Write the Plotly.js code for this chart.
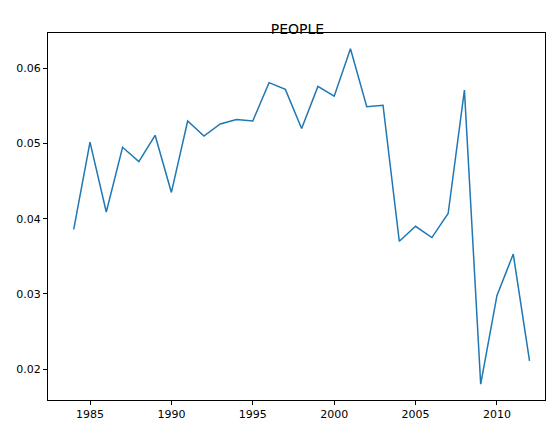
<!DOCTYPE html>
<html>
<head>
<script src="https://cdn.plot.ly/plotly-3.0.1.min.js"></script>
<style>body{margin:0;background:#fff}</style>
</head>
<body>
<div id="chart" style="width:556px;height:435px"></div>
<script>
var years = [1984,1985,1986,1987,1988,1989,1990,1991,1992,1993,1994,1995,1996,1997,1998,
  1999,2000,2001,2002,2003,2004,2005,2006,2007,2008,2009,2010,2011,2012];
var people = [0.0386,0.0502,0.0409,0.0495,0.0476,0.0511,0.0435,0.0530,0.0510,0.0526,0.0532,0.0530,
  0.0581,0.0572,0.0520,0.0576,0.0563,0.0626,0.0549,0.0551,0.0370,0.0390,0.0375,0.0407,0.0571,
  0.0180,0.0298,0.0353,0.0211];
var xTicks = [1985,1990,1995,2000,2005,2010];
var yTicks = [0.02,0.03,0.04,0.05,0.06];

var trace = {
  type: 'scatter', mode: 'lines', x: years, y: people,
  line: {color: '#1f77b4', width: 1.5}
};
var axis = {
  showgrid: false, zeroline: false, showline: true, mirror: true,
  linecolor: '#000', linewidth: 1, ticks: 'outside', ticklen: 4,
  tickcolor: '#000', tickfont: {size: 11, color: '#000'}
};
var layout = {
  width: 556, height: 435,
  margin: {l: 48, r: 11, t: 33, b: 35},
  paper_bgcolor: '#fff', plot_bgcolor: '#fff',
  font: {family: 'DejaVu Sans', color: '#000'},
  showlegend: false,
  title: {text: 'PEOPLE', font: {size: 14}, x: 0.535, xanchor: 'center', y: 0.945},
  xaxis: Object.assign({}, axis, {range: [1982.42, 2012.95], tickvals: xTicks}),
  yaxis: Object.assign({}, axis, {range: [0.0159, 0.0647], tickvals: yTicks, tickformat: '.2f'})
};
Plotly.newPlot('chart', [trace], layout, {displayModeBar: false});
</script>
</body>
</html>
